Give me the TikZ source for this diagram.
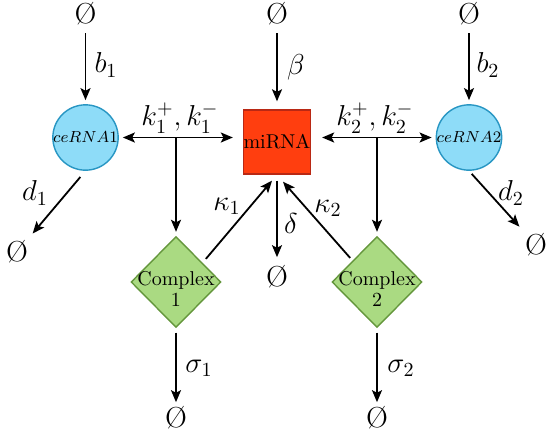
\documentclass[tikz,border=0pt]{standalone}
\usepackage{amssymb}
\usetikzlibrary{shapes.geometric,arrows.meta,calc}
\definecolor{cerf}{RGB}{142,220,248}
\definecolor{cerd}{RGB}{40,150,195}
\definecolor{mirf}{RGB}{255,62,15}
\definecolor{mird}{RGB}{185,40,20}
\definecolor{cpf}{RGB}{170,218,130}
\definecolor{cpd}{RGB}{100,150,60}
\begin{document}
\begin{tikzpicture}[x=0.5pt,y=-0.5pt,
  arr/.style={-{Stealth[length=6pt,width=5pt,inset=1.3pt]}, line width=0.9pt},
  biarr/.style={{Stealth[length=6pt,width=5pt,inset=1.3pt]}-{Stealth[length=6pt,width=5pt,inset=1.3pt]}, line width=0.9pt},
  nullset/.style={inner sep=0pt, font=\Large},
  lbl/.style={inner sep=0pt, font=\Large},
  cer/.style={circle, draw=cerd, fill=cerf, line width=0.7pt, minimum size=31.5pt, inner sep=0pt, font=\footnotesize},
  mirbox/.style={rectangle, draw=mird, fill=mirf, line width=0.7pt, minimum width=33pt, minimum height=32pt, inner sep=0pt},
  cplx/.style={diamond, draw=cpd, fill=cpf, line width=0.7pt, minimum width=45pt, minimum height=45.5pt, inner sep=0pt},
  cplxtext/.style={inner sep=0pt, align=center, font=\normalsize}
]
\useasboundingbox (0,0) rectangle (547,436);

% main nodes
\node[cer] (cer1) at (85.5,137.5) {$ceRNA1$};
\node[mirbox] (mir) at (277,142) {miRNA};
\node[cer] (cer2) at (469,137.5) {$ceRNA2$};
\node[cplx] (c1) at (176,282) {};
\node[cplxtext] (c1t) at (176,289) {Complex\\[-1.5pt]1};
\node[cplx] (c2) at (377,282) {};
\node[cplxtext] (c2t) at (377,289) {Complex\\[-1.5pt]2};

% null sets
\node[nullset] (z1) at (85.5,14) {\O};
\node[nullset] (zm) at (277,14) {\O};
\node[nullset] (z2) at (469,14) {\O};
\node[nullset] (zd1) at (17,252) {\O};
\node[nullset] (zd2) at (536,245) {\O};
\node[nullset] (zd) at (277,277) {\O};
\node[nullset] (zs1) at (176,418) {\O};
\node[nullset] (zs2) at (377,418) {\O};

% production arrows
\draw[arr, shorten <=3.75pt, shorten >=2pt] (z1) -- (cer1);
\draw[arr, shorten <=3.75pt, shorten >=4pt] (zm) -- (mir);
\draw[arr, shorten <=3.75pt, shorten >=2pt] (z2) -- (cer2);

% binding arrows
\coordinate (br1) at (c1 |- cer1);
\coordinate (br2) at (c2 |- cer2);
\draw[biarr, shorten <=2pt, shorten >=5pt] (cer1) -- (cer1 -| mir.west);
\draw[biarr, shorten <=5.5pt, shorten >=2pt] (cer2 -| mir.east) -- (cer2);
\draw[arr, shorten >=2pt] (br1) -- (c1);
\draw[arr, shorten >=2pt] (br2) -- (c2);

% complex to miRNA
\draw[arr] ($(c1.north east)+(7,0)$) -- ($(mir.south)+(-5,6)$);
\draw[arr] ($(c2.north west)+(-4,-1)$) -- ($(mir.south)+(6,7)$);

% decay arrows
\draw[arr, shorten <=3pt, shorten >=4pt] (mir.south) -- (zd);
\draw[arr, shorten <=4pt, shorten >=4.4pt] (cer1.south) -- (zd1);
\draw[arr, shorten <=2pt, shorten >=4.4pt] (cer2.south) -- (zd2);
\draw[arr, shorten <=2.2pt, shorten >=2pt] (c1) -- (zs1);
\draw[arr, shorten <=2.2pt, shorten >=2pt] (c2) -- (zs2);

% labels
\node[lbl] (lb1) at (106,65) {$b_1$};
\node[lbl] (lbeta) at (296,67) {$\beta$};
\node[lbl] (lb2) at (488,65) {$b_2$};
\node[lbl] (lk1) at (180,118) {$k_1^+,k_1^-$};
\node[lbl] (lk2) at (375,118) {$k_2^+,k_2^-$};
\node[lbl] (lkap1) at (227,206) {$\kappa_1$};
\node[lbl] (lkap2) at (328,208) {$\kappa_2$};
\node[lbl] (ldelta) at (291,223) {$\delta$};
\node[lbl] (ld1) at (35,193) {$d_1$};
\node[lbl] (ld2) at (511,193) {$d_2$};
\node[lbl] (ls1) at (199,368) {$\sigma_1$};
\node[lbl] (ls2) at (401,368) {$\sigma_2$};
\end{tikzpicture}
\end{document}
